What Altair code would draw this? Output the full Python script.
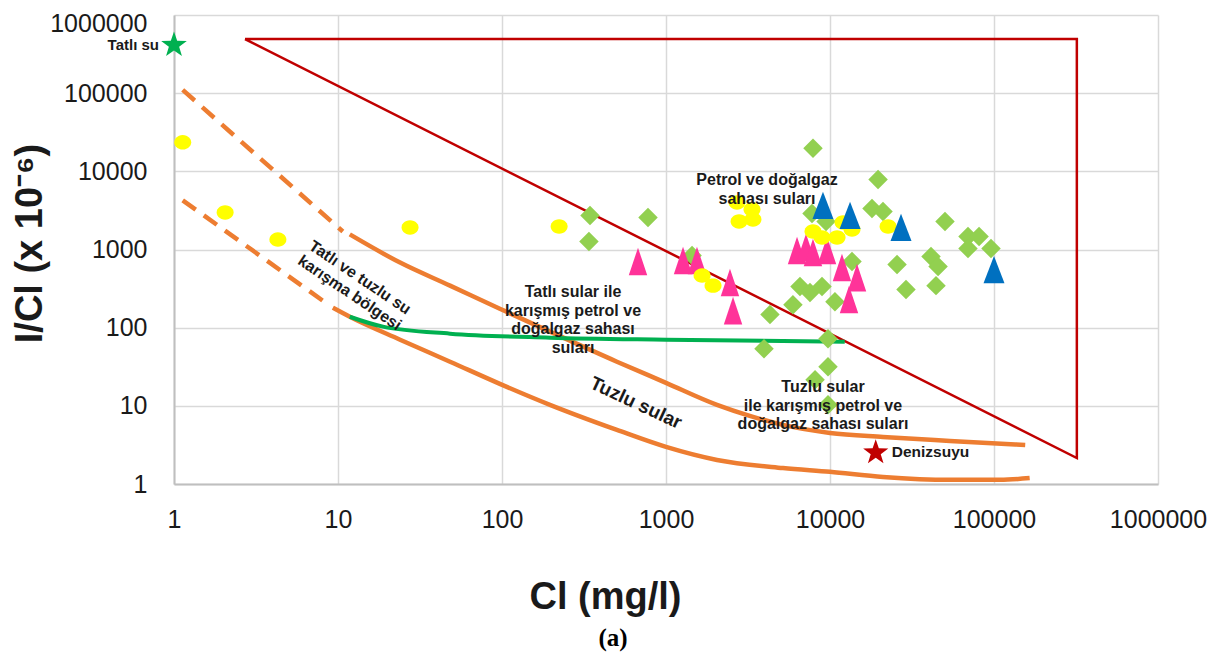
import math
import altair as alt
import pandas as pd

# ---------------- data ----------------
yellow_cl = [1.13, 2.05, 4.3, 27.5, 223, 1660, 1935, 2710, 3345, 2790, 3390, 7875, 8940, 11040, 12000, 13620, 22600]
yellow_icl = [23500, 2980, 1340, 1915, 1970, 464, 345, 4000, 3260, 2285, 2425, 1700, 1425, 1425, 2220, 1805, 1970]

green_cl = [344, 339, 777, 1442, 7875, 19630, 7770, 9460, 18030, 21050, 50250, 69400, 81100, 69400, 95900, 13620,
            25630, 41300, 45600, 29060, 44300, 6560, 7550, 8940, 5945, 10720, 4305, 9725, 3960, 9725, 8110, 9725]
green_icl = [2730, 1267, 2570, 838, 19700, 7890, 2895, 2285, 3355, 3070, 2285, 1468, 1468, 1030, 1030, 702,
             642, 813, 606, 307, 345, 336, 281, 336, 197, 215, 147, 72.3, 53.8, 31.6, 21.5, 10.3]

pink_cl = [675, 1270, 1545, 2455, 2563, 6295, 7140, 7875, 9590, 11830, 14610, 13060]
pink_icl = [702, 723, 723, 378, 165, 971, 1060, 916, 971, 588, 437, 229]

blue_cl = [9060, 13250, 27100, 100000]
blue_icl = [3665, 2730, 1915, 554]

fresh_cl = [1]
fresh_icl = [412000]
sea_cl = [19000]
sea_icl = [2.53]

frame_cl = [2.71, 320000, 320000, 2.71]
frame_icl = [492000, 492000, 2.15, 492000]

upper_dash_cl = [1.13, 10.7]
upper_dash_icl = [110000, 1700]
lower_dash_cl = [1.13, 8.9]
lower_dash_icl = [4260, 191]

upper_cl = [11.8, 23.9, 48.2, 97, 196, 502, 1000, 2046, 3240, 5165, 10000, 21050, 53900, 155000]
upper_icl = [1560, 680, 345, 175, 89, 36.7, 19.7, 10.3, 7.45, 5.71, 4.5, 4.0, 3.56, 3.16]

lower_cl = [9.3, 11.8, 23.9, 48.2, 97, 196, 502, 1000, 2046, 5165, 10000, 21050, 53900, 109000, 165000]
lower_icl = [180, 138, 70.2, 36.7, 19.1, 10.3, 4.92, 2.98, 2.03, 1.60, 1.43, 1.23, 1.13, 1.13, 1.19]

mix_cl = [11.8, 18.8, 48.2, 196, 1000, 12300]
mix_icl = [138, 103, 83.8, 74.5, 70.2, 66.2]

tick_values = [1, 10, 100, 1000, 10000, 100000, 1000000]

# annotation texts
note_cl = [4130, 271, 9060]
note_icl = [7670, 285, 17.3]
note_txt = ["Petrol ve doğalgaz\nsahası suları",
            "Tatlı sular ile\nkarışmış petrol ve\ndoğalgaz sahası\nsuları",
            "Tuzlu sular\nile karışmış petrol ve\ndoğalgaz sahası suları"]
mixzone_cl = [13.6]
mixzone_icl = [437]
mixzone_txt = ["Tatlı ve tuzlu su\nkarışma bölgesi"]
salt_cl = [656]
salt_icl = [10.9]
salt_txt = ["Tuzlu sular"]
fresh_txt = ["Tatlı su"]
sea_txt = ["Denizsuyu"]

# ---------------- helpers ----------------
FONT = "Liberation Sans"
TXT = "#1a1a1a"


def star_path(r_in=0.4):
    pts = []
    for i in range(10):
        a = math.radians(-90 + 36 * i)
        r = 1.0 if i % 2 == 0 else r_in
        pts.append(f"{r * math.cos(a):.3f},{r * math.sin(a):.3f}")
    return "M" + "L".join(pts) + "Z"


def ellipse_path(ry=0.85, n=28):
    pts = []
    for i in range(n):
        a = 2 * math.pi * i / n
        pts.append(f"{math.cos(a):.3f},{ry * math.sin(a):.3f}")
    return "M" + "L".join(pts) + "Z"


xscale = alt.Scale(type="log", domain=[1, 1000000], nice=False)
yscale = alt.Scale(type="log", domain=[1, 1000000], nice=False)

xaxis = alt.Axis(values=tick_values, format="d", grid=True, gridColor="#D9D9D9", gridWidth=1.5,
                 domainColor="#BFBFBF", domainWidth=2, ticks=False, tickSize=0,
                 labelFont=FONT, labelFontSize=25, labelColor=TXT, labelPadding=23,
                 labelFlush=False, labelOverlap=False,
                 title="Cl (mg/l)", titleFont=FONT, titleFontSize=38, titleFontWeight="bold",
                 titleColor=TXT, titleX=431, titleY=113, titleBaseline="middle", titleAlign="center")
yaxis = alt.Axis(values=tick_values, format="d", grid=True, gridColor="#D9D9D9", gridWidth=1.5,
                 domainColor="#BFBFBF", domainWidth=2, ticks=False, tickSize=0,
                 labelFont=FONT, labelFontSize=25, labelColor=TXT, labelPadding=27,
                 labelOffset={"condition": {"test": "datum.value >= 1000000", "value": 8}, "value": 0},
                 labelFlush=False, labelOverlap=False,
                 title="I/Cl (x 10⁻⁶)", titleFont=FONT, titleFontSize=38, titleFontWeight="bold",
                 titleColor=TXT, titleX=-144, titleY=228, titleBaseline="middle", titleAlign="center")


def df_xy(xs, ys):
    return pd.DataFrame({"cl": xs, "icl": ys, "i": list(range(len(xs)))})


def X():
    return alt.X("cl:Q", scale=xscale, axis=xaxis, title="Cl (mg/l)")


def Y():
    return alt.Y("icl:Q", scale=yscale, axis=yaxis, title="I/Cl (x 10⁻⁶)")


def line(xs, ys, color, width, dash=None, interp="linear"):
    kw = dict(color=color, strokeWidth=width, interpolate=interp, strokeCap="butt", strokeJoin="miter")
    if dash:
        kw["strokeDash"] = dash
    return alt.Chart(df_xy(xs, ys)).mark_line(**kw).encode(x=X(), y=Y(), order="i:Q")


def points(xs, ys, shape, size, color):
    return alt.Chart(df_xy(xs, ys)).mark_point(shape=shape, size=size, filled=True, fill=color,
                                                opacity=1, strokeWidth=0).encode(x=X(), y=Y())


def text(xs, ys, txt, size=16, angle=0, align="center", dx=0, baseline="middle"):
    d = pd.DataFrame({"cl": xs, "icl": ys, "t": txt})
    kw = dict(font=FONT, fontSize=size, fontWeight="bold", color=TXT, align=align, baseline=baseline,
              lineBreak="\n", lineHeight=18.5, dx=dx)
    if angle:
        kw["angle"] = angle
    return alt.Chart(d).mark_text(**kw).encode(x=X(), y=Y(), text="t:N")


layers = [
    line(frame_cl, frame_icl, "#C00000", 2.5),
    line(upper_dash_cl, upper_dash_icl, "#ED7D31", 4.5, dash=[16, 10]),
    line(lower_dash_cl, lower_dash_icl, "#ED7D31", 4.5, dash=[16, 10]),
    line(upper_cl, upper_icl, "#ED7D31", 4.5, interp="monotone"),
    line(lower_cl, lower_icl, "#ED7D31", 4.5, interp="monotone"),
    line(mix_cl, mix_icl, "#00B050", 4, interp="monotone"),
    points(green_cl, green_icl, "diamond", 380, "#92D050"),
    points(pink_cl, pink_icl, "M0,-1.5L1,1.5L-1,1.5Z", 340, "#FF3399"),
    points(yellow_cl, yellow_icl, ellipse_path(), 289, "#FFFF00"),
    points(blue_cl, blue_icl, "M0,-1.3L1,1.3L-1,1.3Z", 441, "#0070C0"),
    points(fresh_cl, fresh_icl, star_path(), 729, "#00B050"),
    points(sea_cl, sea_icl, star_path(), 700, "#C00000"),
    text(note_cl, note_icl, note_txt, size=16),
    text(mixzone_cl, mixzone_icl, mixzone_txt, size=16, angle=34),
    text(salt_cl, salt_icl, salt_txt, size=19, angle=25),
    text(fresh_cl, fresh_icl, fresh_txt, size=15, align="right", dx=-15),
    text(sea_cl, sea_icl, sea_txt, size=15.5, align="left", dx=16),
]

chart = alt.layer(*layers).properties(
    width=984, height=469,
    autosize=alt.AutoSizeParams(type="none"),
    padding={"left": 166, "top": 7, "right": 60, "bottom": 172},
    background="white",
    title=alt.TitleParams("(a)", orient="bottom", anchor="middle", frame="group", dx=-53, offset=10,
                          font="Liberation Serif", fontSize=25, fontWeight="bold", color="#000000"),
).configure_view(stroke=None)

chart.save("out.html", embed_options={"renderer": "svg", "actions": False})
